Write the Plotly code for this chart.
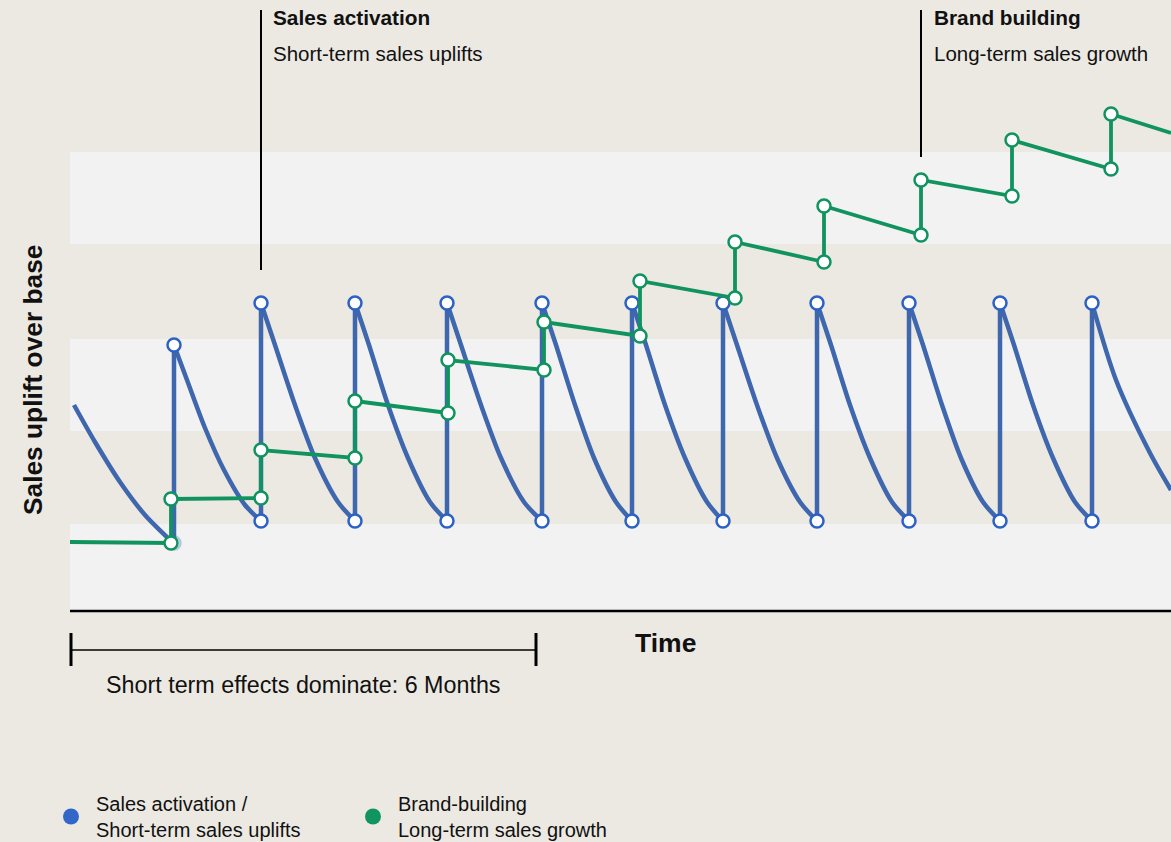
import plotly.graph_objects as go

# ---------------- data (time index on x, sales uplift index on y; base = 0) ----------------
# lead-in decay before the first activation burst
blue_lead_x = [74, 95, 120, 145, 170]
blue_lead_y = [205, 168, 128, 95, 70]

# activation bursts: time, level before burst, peak level
burst_x = [174, 261, 355, 447, 542, 632, 723, 817, 909, 1000, 1092]
burst_low = [69, 89, 89, 89, 89, 89, 89, 89, 89, 89, 89]
burst_peak = [265, 307, 307, 307, 307, 307, 307, 307, 307, 307, 307]

# decay after each burst
decay_x = [
    [174, 187, 205, 224, 245, 261],
    [261, 275, 295, 315, 338, 355],
    [355, 369, 388, 408, 430, 447],
    [447, 461, 481, 501, 524, 542],
    [542, 556, 575, 594, 616, 632],
    [632, 646, 665, 685, 707, 723],
    [723, 737, 757, 777, 800, 817],
    [817, 831, 850, 870, 892, 909],
    [909, 923, 942, 961, 983, 1000],
    [1000, 1014, 1033, 1053, 1075, 1092],
    [1092, 1116, 1150, 1171],
]
decay_y = [
    [265, 230, 182, 140, 105, 89],
    [307, 265, 205, 152, 108, 89],
    [307, 265, 205, 152, 108, 89],
    [307, 265, 205, 152, 108, 89],
    [307, 265, 205, 152, 108, 89],
    [307, 265, 205, 152, 108, 89],
    [307, 265, 205, 152, 108, 89],
    [307, 265, 205, 152, 108, 89],
    [307, 265, 205, 152, 108, 89],
    [307, 265, 205, 152, 108, 89],
    [307, 230, 157, 120],
]

# brand-building staircase
green_x = [70, 171, 171, 261, 261, 355, 355, 448, 448, 544, 544, 640, 640,
           735, 735, 824, 824, 921, 921, 1012, 1012, 1111, 1111, 1171]
green_y = [68, 67, 111, 112, 160, 152, 209, 197, 250, 240, 288, 274, 329,
           312, 368, 348, 404, 375, 430, 414, 470, 441, 496, 477]

# background bands (uplift index ranges)
band_lo = [0, 179, 366]
band_hi = [86, 271, 458]

legend_names = ["Sales activation /<br>Short-term sales uplifts",
                "Brand-building<br>Long-term sales growth"]

# ---------------- styling ----------------
BEIGE = "#ece9e3"
LIGHT = "#f2f2f2"
BLUE_LINE = "#3f67ae"
BLUE_MK = "#2d62c4"
GREEN = "#10935f"
TXT = "#111111"
FONT = "Liberation Sans, Arial, sans-serif"

X0, X1, YTOP = 70, 1171, 610


def xp(x):  # x value -> paper fraction
    return (x - X0) / (X1 - X0)


def yp(y):  # y value -> paper fraction
    return y / YTOP


fig = go.Figure()

# blue decay curves (spline per segment, gaps split the segments)
cx, cy = list(blue_lead_x) + [None], list(blue_lead_y) + [None]
for xs, ys in zip(decay_x, decay_y):
    cx += xs + [None]
    cy += ys + [None]
fig.add_trace(go.Scatter(x=cx, y=cy, mode="lines",
                         line=dict(color=BLUE_LINE, width=4.5, shape="spline", smoothing=0.8),
                         connectgaps=False, showlegend=False, hoverinfo="skip"))

# blue vertical bursts
vx, vy = [], []
for x, lo, hi in zip(burst_x, burst_low, burst_peak):
    vx += [x, x, None]
    vy += [lo, hi, None]
fig.add_trace(go.Scatter(x=vx, y=vy, mode="lines", line=dict(color=BLUE_LINE, width=4.5),
                         showlegend=False, hoverinfo="skip"))

# faint marker at first low point
fig.add_trace(go.Scatter(x=[burst_x[0]], y=[burst_low[0] - 2], mode="markers", opacity=0.3,
                         marker=dict(size=13, color="white", line=dict(color=BLUE_MK, width=2.5)),
                         showlegend=False, hoverinfo="skip"))

# blue markers: peaks and lows
mx = burst_x + burst_x[1:]
my = burst_peak + burst_low[1:]
fig.add_trace(go.Scatter(x=mx, y=my, mode="markers",
                         marker=dict(size=13, color="white", line=dict(color=BLUE_MK, width=2.5)),
                         showlegend=False, hoverinfo="skip"))

# green staircase
fig.add_trace(go.Scatter(x=green_x, y=green_y, mode="lines", line=dict(color=GREEN, width=3.8),
                         showlegend=False, hoverinfo="skip"))
fig.add_trace(go.Scatter(x=green_x[1:-1], y=green_y[1:-1], mode="markers",
                         marker=dict(size=13, color="white", line=dict(color=GREEN, width=2.5)),
                         showlegend=False, hoverinfo="skip"))

# legend entries
for name, col in zip(legend_names, ["#3067c8", "#0f9462"]):
    fig.add_trace(go.Scatter(x=[None], y=[None], mode="markers", name=name,
                             marker=dict(size=16, color=col)))

shapes = []
for lo, hi in zip(band_lo, band_hi):
    shapes.append(dict(type="rect", xref="x", yref="y", x0=X0, x1=X1, y0=lo, y1=hi,
                       fillcolor=LIGHT, line=dict(width=0), layer="below"))
# base axis line
shapes.append(dict(type="line", xref="paper", yref="paper", x0=0, x1=1, y0=yp(-1), y1=yp(-1),
                   line=dict(color="black", width=2.5)))
# callout lines
shapes.append(dict(type="line", xref="x", yref="y", x0=261, x1=261, y0=340, y1=600,
                   line=dict(color="black", width=2)))
shapes.append(dict(type="line", xref="x", yref="y", x0=921, x1=921, y0=453, y1=600,
                   line=dict(color="black", width=2)))
# 6-month bracket
shapes.append(dict(type="line", xref="paper", yref="paper", x0=xp(71), x1=xp(536), y0=yp(-40), y1=yp(-40),
                   line=dict(color="black", width=1.5)))
for bx in [71, 536]:
    shapes.append(dict(type="line", xref="paper", yref="paper", x0=xp(bx), x1=xp(bx),
                       y0=yp(-23), y1=yp(-56), line=dict(color="black", width=3)))

ann = [
    dict(x=271, y=592, text="<b>Sales activation</b>", xanchor="left", font=dict(size=20.8)),
    dict(x=271, y=557, text="Short-term sales uplifts", xanchor="left", font=dict(size=20.5)),
    dict(x=932, y=592, text="<b>Brand building</b>", xanchor="left", font=dict(size=20.8)),
    dict(x=932, y=557, text="Long-term sales growth", xanchor="left", font=dict(size=20.5)),
    dict(x=665, y=-33, text="<b>Time</b>", xanchor="center", font=dict(size=26.5)),
    dict(x=303, y=-75, text="Short term effects dominate: 6 Months", xanchor="center", font=dict(size=23.3)),
    dict(x=33, y=230, text="<b>Sales uplift over base</b>", textangle=-90, xanchor="center",
         font=dict(size=26.3)),
]
for a in ann:
    a["x"] = xp(a["x"])
    a["y"] = yp(a["y"])
    a.update(xref="paper", yref="paper", showarrow=False, yanchor="middle")
    a["font"].update(color=TXT, family=FONT)

fig.update_layout(
    width=1171, height=842,
    margin=dict(l=70, r=0, t=0, b=842 - YTOP, autoexpand=False),
    paper_bgcolor=BEIGE, plot_bgcolor=BEIGE,
    xaxis=dict(range=[X0, X1], visible=False, fixedrange=True),
    yaxis=dict(range=[0, YTOP], visible=False, fixedrange=True),
    shapes=shapes, annotations=ann,
    font=dict(family=FONT, color=TXT, size=20),
    showlegend=True,
    legend=dict(orientation="h", x=xp(46), xanchor="left", y=yp(-174), yanchor="top",
                bgcolor="rgba(0,0,0,0)", itemwidth=40, entrywidth=247, entrywidthmode="pixels",
                font=dict(size=20, family=FONT, color=TXT), itemsizing="trace"),
)

fig.write_html("out.html", config={"displayModeBar": False},
               post_script="document.body.style.margin='0';document.body.style.overflow='hidden';")
